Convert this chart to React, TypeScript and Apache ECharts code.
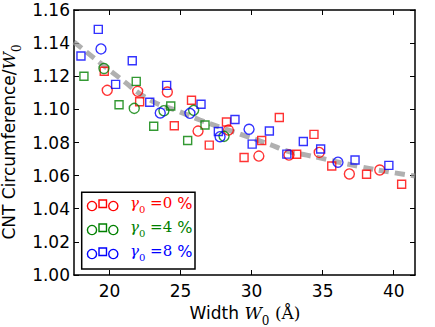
import React, { useEffect, useRef } from "react";
import * as echarts from "echarts";

const xTickValues = [20, 25, 30, 35, 40];
const yTickValues = [1.0, 1.02, 1.04, 1.06, 1.08, 1.1, 1.12, 1.14, 1.16];

// gamma0 = 0 %
const redCircles = [
  [19.84, 1.1115], [21.98, 1.1109], [24.07, 1.1105], [26.23, 1.0869], [28.37, 1.0875],
  [30.51, 1.0718], [32.63, 1.0724], [34.76, 1.074], [36.88, 1.061], [39.02, 1.0634],
];
const redSquares = [
  [19.63, 1.123], [22.12, 1.1046], [24.56, 1.0901], [25.77, 1.1055], [27.02, 1.0784],
  [28.23, 1.0924], [29.47, 1.0709], [30.71, 1.0812], [31.95, 1.0951], [33.17, 1.0729],
  [34.39, 1.0849], [35.64, 1.0658], [38.09, 1.0608], [40.56, 1.0548],
];
// gamma0 = 4 %
const greenCircles = [
  [19.61, 1.1247], [21.74, 1.1006], [23.83, 1.0992], [25.92, 1.0994], [28.06, 1.0837],
];
const greenSquares = [
  [18.2, 1.12], [20.67, 1.1028], [21.88, 1.1169], [23.11, 1.0898], [24.31, 1.102],
  [25.5, 1.0812], [26.72, 1.0906],
];
// gamma0 = 8 %
const blueCircles = [
  [19.4, 1.1365], [23.57, 1.0978], [25.66, 1.0976], [27.78, 1.0835], [29.82, 1.088],
  [36.08, 1.0681],
];
const blueSquares = [
  [17.99, 1.1322], [19.21, 1.1483], [20.43, 1.1151], [21.6, 1.1294], [22.83, 1.1043],
  [24.02, 1.1145], [26.44, 1.1031], [27.66, 1.0866], [28.83, 1.0939], [30.04, 1.079],
  [31.25, 1.0869], [32.48, 1.073], [33.64, 1.0806], [34.86, 1.0761], [37.28, 1.0694],
  [39.66, 1.0662],
];
// grey dashed guide curve
const guideCurve = [
  [17.5, 1.1407], [20.74, 1.1188], [22.85, 1.1057], [24.96, 1.0985], [26.37, 1.0936],
  [28.71, 1.0865], [31.06, 1.0795], [32.7, 1.0744], [33.88, 1.0724], [37.63, 1.0654],
  [39.97, 1.0618], [41.5, 1.0598],
];

const legendRows = [
  { label: "0", color: "#ff0000" },
  { label: "4", color: "#008000" },
  { label: "8", color: "#0000ff" },
];

const RED = "#ff0000";
const GREEN = "#008000";
const BLUE = "#0000ff";

function scatter(data: number[][], color: string, symbol: string, size: number) {
  return {
    type: "scatter",
    data,
    symbol,
    symbolSize: size,
    z: 3,
    itemStyle: { color: "none", borderColor: color, borderWidth: 1.4 },
  };
}

function mathRich(size: number, fill: string, subSize: number, subDrop: number) {
  const lh = size + 4;
  return {
    a: { fontFamily: "DejaVu Sans", fontSize: size, fill, lineHeight: lh, verticalAlign: "top" },
    w: { fontFamily: "DejaVu Serif", fontStyle: "italic", fontSize: size, fill, lineHeight: lh, verticalAlign: "top" },
    b: { fontFamily: "DejaVu Serif", fontSize: size, fill, lineHeight: lh, verticalAlign: "top" },
    s: { fontFamily: "DejaVu Serif", fontSize: subSize, fill, lineHeight: subSize, verticalAlign: "top", padding: [subDrop, 0, 0, 0] },
    p: { fontFamily: "DejaVu Sans", fontSize: size + 1, fill, lineHeight: lh, verticalAlign: "top" },
  };
}

export default function App() {
  const ref = useRef<HTMLDivElement>(null);
  useEffect(() => {
    const chart = echarts.init(ref.current!, null, { renderer: "svg" });
    const axisLine = { show: true, onZero: false, lineStyle: { color: "#000", width: 1.5 } };
    const tick = { show: true, inside: true, length: 5, lineStyle: { color: "#000", width: 1 } };
    const labelFont = { fontFamily: "DejaVu Sans", fontSize: 17, color: "#000" };

    const legendGraphics: any[] = [
      {
        type: "rect",
        shape: { x: 81.7, y: 192.3, width: 113.3, height: 76.7 },
        style: { fill: "#fff", stroke: "#000", lineWidth: 1.5 },
        z: 10,
      },
    ];
    legendRows.forEach((r, i) => {
      const cy = 206 + i * 24;
      legendGraphics.push(
        { type: "circle", shape: { cx: 92, cy, r: 4.6 }, style: { fill: "none", stroke: r.color, lineWidth: 1.4 }, z: 11 },
        { type: "rect", shape: { x: 99, y: cy - 6, width: 7.5, height: 7.5 }, style: { fill: "none", stroke: r.color, lineWidth: 1.4 }, z: 11 },
        { type: "circle", shape: { cx: 113.3, cy, r: 4.6 }, style: { fill: "none", stroke: r.color, lineWidth: 1.4 }, z: 11 },
        {
          type: "text",
          x: 130,
          y: cy - 1,
          z: 11,
          style: {
            text: `{w|γ}{s|0}{b| =${r.label}}{p| %}`,
            verticalAlign: "middle",
            align: "left",
            rich: mathRich(15, r.color, 10, 9),
          },
        }
      );
    });

    const option: any = {
      animation: false,
      grid: { left: 74, right: 20, top: 10, bottom: 52, containLabel: false, outerBoundsMode: "none" },
      xAxis: [
        {
          type: "value",
          min: 17.5,
          max: 41.5,
          position: "bottom",
          axisLine,
          axisTick: { ...tick, customValues: xTickValues },
          axisLabel: { ...labelFont, margin: 7, customValues: xTickValues },
          splitLine: { show: false },
        },
        {
          type: "value",
          min: 17.5,
          max: 41.5,
          position: "top",
          axisLine,
          axisTick: { ...tick, customValues: xTickValues },
          axisLabel: { show: false },
          splitLine: { show: false },
        },
      ],
      yAxis: [
        {
          type: "value",
          min: 1.0,
          max: 1.16,
          position: "left",
          axisLine,
          axisTick: { ...tick, customValues: yTickValues },
          axisLabel: {
            ...labelFont,
            margin: 4,
            customValues: yTickValues,
            formatter: (v: number) => v.toFixed(2),
          },
          splitLine: { show: false },
        },
        {
          type: "value",
          min: 1.0,
          max: 1.16,
          position: "right",
          axisLine,
          axisTick: { ...tick, customValues: yTickValues },
          axisLabel: { show: false },
          splitLine: { show: false },
        },
      ],
      series: [
        {
          type: "line",
          data: guideCurve,
          smooth: true,
          symbol: "none",
          z: 2,
          lineStyle: { color: "rgba(150,150,150,0.75)", width: 5, type: [10, 6] },
        },
        scatter(redCircles, RED, "circle", 10),
        scatter(redSquares, RED, "rect", 8),
        scatter(greenCircles, GREEN, "circle", 10),
        scatter(greenSquares, GREEN, "rect", 8),
        scatter(blueCircles, BLUE, "circle", 10),
        scatter(blueSquares, BLUE, "rect", 8),
      ],
      graphic: [
        {
          type: "text",
          x: 11,
          y: 142,
          rotation: Math.PI / 2,
          style: {
            text: "{a|CNT Circumference/}{w|W}{s|0}",
            align: "center",
            verticalAlign: "middle",
            rich: mathRich(17, "#000", 12, 10),
          },
        },
        {
          type: "text",
          x: 245,
          y: 315,
          style: {
            text: "{a|Width }{w|W}{s|0}{a| }{b|(Å)}",
            align: "center",
            verticalAlign: "middle",
            rich: mathRich(17, "#000", 12, 10),
          },
        },
        ...legendGraphics,
      ],
    };
    chart.setOption(option);
    return () => chart.dispose();
  }, []);
  return <div ref={ref} style={{ position: "absolute", left: 0, top: 0, width: 435, height: 327 }} />;
}
